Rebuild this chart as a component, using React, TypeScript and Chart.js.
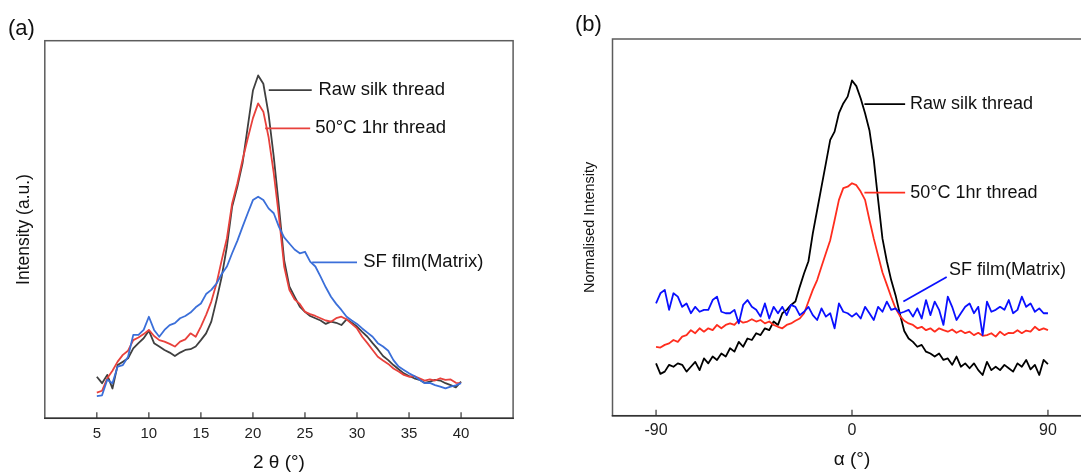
import React, { useEffect, useRef } from "react";
import { Chart, registerables } from "chart.js";

Chart.register(...registerables);

// ---------- Panel (a): XRD ----------
const twoTheta = [
  5, 5.5, 6, 6.5, 7, 7.5, 8, 8.5, 9, 9.5, 10, 10.5, 11, 11.5, 12, 12.5, 13, 13.5, 14, 14.5,
  15, 15.5, 16, 16.5, 17, 17.5, 18, 18.5, 19, 19.5, 20, 20.5, 21, 21.5, 22, 22.5, 23, 23.5, 24, 24.5,
  25, 25.5, 26, 26.5, 27, 27.5, 28, 28.5, 29, 29.5, 30, 30.5, 31, 31.5, 32, 32.5, 33, 33.5, 34, 34.5,
  35, 35.5, 36, 36.5, 37, 37.5, 38, 38.5, 39, 39.5, 40,
];
const rawSilkXRD = [
  11.0, 9.3, 11.5, 7.9, 14.1, 15.0, 15.9, 18.5, 19.9, 21.2, 23.2, 19.9, 19.0, 18.1, 17.4, 16.5, 17.4, 18.1, 18.3, 19.0,
  20.7, 22.5, 25.6, 31.3, 37.5, 45.5, 56.0, 61.3, 67.5, 77.2, 86.8, 90.8, 88.6, 80.6, 69.3, 56.0, 41.9, 34.9, 32.2, 29.6,
  28.2, 27.1, 26.5, 25.9, 25.0, 25.6, 25.3, 24.7, 26.2, 25.3, 24.3, 22.9, 21.6, 19.9, 18.3, 16.5, 15.4, 14.1, 13.0, 11.9,
  11.2, 10.6, 10.2, 9.4, 9.7, 10.2, 10.0, 9.3, 8.8, 8.2, 9.7,
];
const heated50XRD = [
  6.8, 7.3, 10.6, 12.6, 15.0, 16.8, 17.9, 20.7, 21.4, 22.3, 23.4, 21.8, 20.7, 20.3, 19.7, 19.0, 20.3, 20.9, 22.5, 21.6,
  24.3, 27.4, 30.9, 35.7, 41.9, 47.7, 56.9, 62.2, 68.4, 74.1, 79.5, 83.4, 81.2, 74.5, 64.9, 53.4, 40.2, 34.0, 31.5, 30.3,
  28.2, 27.6, 27.1, 26.5, 25.9, 25.6, 26.5, 26.9, 26.2, 25.0, 23.8, 21.6, 19.9, 18.1, 16.3, 15.3, 14.4, 13.2, 12.4, 11.5,
  11.0, 11.2, 10.6, 10.0, 10.3, 10.0, 10.6, 10.2, 10.3, 9.4, 9.3,
];
const sfFilmXRD = [
  5.9, 6.1, 10.2, 9.3, 13.7, 14.1, 16.3, 22.1, 22.1, 23.4, 26.9, 23.4, 21.6, 23.4, 24.7, 25.2, 26.5, 27.1, 28.0, 29.4,
  30.4, 32.9, 34.0, 35.7, 38.2, 40.2, 43.7, 47.0, 50.7, 54.3, 57.8, 58.7, 57.8, 55.6, 54.3, 50.7, 47.9, 46.3, 44.7, 43.7,
  44.1, 41.5, 40.2, 37.5, 34.7, 32.2, 30.3, 28.7, 26.9, 25.9, 25.0, 23.8, 22.7, 21.6, 19.9, 19.0, 17.9, 15.4, 13.7, 12.8,
  11.9, 11.2, 10.2, 9.3, 9.4, 8.8, 8.4, 7.9, 8.4, 8.7, 9.3,
];
const xTicksA = [5, 10, 15, 20, 25, 30, 35, 40];

// ---------- Panel (b): azimuthal ----------
const alpha = [
  -90, -88, -86, -84, -82, -80, -78, -76, -74, -72, -70, -68, -66, -64, -62, -60, -58, -56, -54, -52,
  -50, -48, -46, -44, -42, -40, -38, -36, -34, -32, -30, -28, -26, -24, -22, -20, -18, -16, -14, -12,
  -10, -8, -6, -4, -2, 0, 2, 4, 6, 8, 10, 12, 14, 16, 18, 20, 22, 24, 26, 28,
  30, 32, 34, 36, 38, 40, 42, 44, 46, 48, 50, 52, 54, 56, 58, 60, 62, 64, 66, 68,
  70, 72, 74, 76, 78, 80, 82, 84, 86, 88, 90,
];
const rawSilkAz = [
  13.9, 11.1, 11.7, 13.5, 13.0, 13.9, 13.5, 11.7, 13.0, 14.3, 12.1, 15.2, 13.9, 15.7, 14.8, 16.5, 15.7, 17.9, 17.0, 19.6,
  18.3, 20.5, 20.1, 21.9, 21.4, 23.2, 22.7, 25.0, 24.1, 27.2, 28.1, 29.4, 30.3, 34.2, 37.8, 41.0, 48.4, 54.6, 60.8, 67.0,
  73.2, 75.4, 80.3, 82.9, 84.7, 89.0, 87.5, 84.2, 80.3, 75.8, 68.0, 57.3, 47.0, 41.0, 36.0, 32.0, 27.0, 22.5, 20.5, 19.6,
  18.3, 18.8, 17.0, 16.5, 15.7, 16.5, 14.8, 15.2, 13.5, 15.7, 13.0, 13.9, 12.6, 13.9, 12.1, 10.8, 14.3, 12.1, 13.0, 12.1,
  13.5, 12.6, 11.7, 13.9, 13.0, 14.8, 12.3, 13.5, 10.8, 14.8, 13.7,
];
const heated50Az = [
  18.3, 18.1, 18.8, 19.2, 20.1, 19.6, 21.0, 21.4, 22.7, 21.9, 23.2, 22.3, 23.2, 22.7, 24.1, 23.2, 24.1, 24.5, 24.1, 25.4,
  24.7, 25.0, 25.6, 25.0, 25.4, 24.5, 25.0, 24.1, 23.6, 23.2, 24.1, 24.5, 25.2, 25.8, 27.2, 30.3, 33.4, 36.0, 39.6, 43.1,
  46.6, 51.9, 57.3, 60.4, 60.8, 61.7, 61.2, 59.5, 57.3, 52.0, 47.0, 42.5, 38.0, 34.8, 31.5, 28.5, 26.5, 25.2, 24.5, 24.1,
  23.2, 23.6, 22.7, 23.2, 22.3, 23.2, 22.7, 22.3, 22.9, 22.0, 22.6, 21.9, 22.3, 21.4, 22.0, 21.2, 21.4, 21.9, 21.0, 22.3,
  21.4, 22.0, 21.9, 22.7, 21.9, 22.6, 22.3, 23.6, 22.7, 23.2, 22.7,
];
const sfFilmAz = [
  29.8, 32.5, 33.4, 28.1, 32.5, 31.6, 28.9, 29.8, 27.2, 28.9, 27.6, 28.1, 28.1, 30.7, 31.6, 27.6, 27.2, 27.2, 28.1, 24.5,
  29.4, 30.7, 28.9, 28.1, 26.3, 29.8, 25.8, 28.9, 27.2, 28.9, 26.7, 29.4, 28.9, 26.7, 27.6, 28.9, 26.7, 25.4, 28.5, 26.3,
  27.2, 23.2, 29.8, 27.6, 27.2, 26.3, 27.2, 25.8, 28.9, 27.2, 25.4, 28.9, 27.6, 30.3, 28.1, 28.5, 27.2, 27.6, 28.1, 26.3,
  28.5, 25.8, 30.7, 26.7, 30.3, 28.1, 24.1, 31.6, 28.9, 25.4, 27.2, 28.9, 29.8, 27.2, 28.9, 21.4, 30.3, 27.6, 28.1, 28.9,
  28.1, 30.7, 27.2, 28.1, 31.6, 28.9, 29.8, 27.6, 28.5, 27.2, 27.2,
];
const xTicksB = [-90, 0, 90];

const FONT = "'Liberation Sans', Arial, Helvetica, sans-serif";

type Note = {
  text: string;
  color: string;
  x1: number; y1: number; x2: number; y2: number;
  tx: number; ty: number;
};

type PanelCfg = {
  width: number;
  left: number;
  padL: number;
  padR: number;
  padT: number;
  axisH: number;
  xMin: number;
  xMax: number;
  ticks: number[];
  tickFont: number;
  tickPad: number;
  xTitle: string;
  xTitleFont: number;
  xTitlePad: number;
  yTitle: string;
  yTitleFont: number;
  yTitleX: number;
  panelLabel: string;
  panelLabelX: number;
  panelLabelY: number;
  noteFont: number;
  notes: Note[];
  series: { x: number[]; y: number[]; color: string }[];
  lineWidth: number;
};

function makePlugin(cfg: PanelCfg) {
  return {
    id: "decor",
    afterDraw(chart: any) {
      const { ctx, chartArea: a, scales } = chart;
      const xs = scales.x;
      const ys = scales.y;
      ctx.save();
      ctx.strokeStyle = "#5c5c5c";
      ctx.lineWidth = 1.5;
      ctx.strokeRect(a.left, a.top, a.right - a.left, a.bottom - a.top);
      ctx.strokeStyle = "#333";
      ctx.beginPath();
      ctx.moveTo(a.left - 0.75, a.bottom);
      ctx.lineTo(a.right + 0.75, a.bottom);
      ctx.stroke();
      ctx.lineWidth = 1.2;
      xs.ticks.forEach((t: any) => {
        const px = xs.getPixelForValue(t.value);
        ctx.beginPath();
        ctx.moveTo(px, a.bottom);
        ctx.lineTo(px, a.bottom - 6);
        ctx.stroke();
      });
      ctx.fillStyle = "#111";
      ctx.font = `${cfg.yTitleFont}px ${FONT}`;
      ctx.textAlign = "center";
      ctx.textBaseline = "middle";
      ctx.translate(cfg.yTitleX, (a.top + a.bottom) / 2);
      ctx.rotate(-Math.PI / 2);
      ctx.fillText(cfg.yTitle, 0, 0);
      ctx.setTransform(1, 0, 0, 1, 0, 0);
      ctx.font = `22px ${FONT}`;
      ctx.textAlign = "left";
      ctx.fillText(cfg.panelLabel, cfg.panelLabelX, cfg.panelLabelY);
      ctx.font = `${cfg.noteFont}px ${FONT}`;
      cfg.notes.forEach((n) => {
        ctx.strokeStyle = n.color;
        ctx.lineWidth = 1.8;
        ctx.beginPath();
        ctx.moveTo(xs.getPixelForValue(n.x1), ys.getPixelForValue(n.y1));
        ctx.lineTo(xs.getPixelForValue(n.x2), ys.getPixelForValue(n.y2));
        ctx.stroke();
        ctx.fillStyle = "#111";
        ctx.textAlign = "left";
        ctx.textBaseline = "middle";
        ctx.fillText(n.text, xs.getPixelForValue(n.tx), ys.getPixelForValue(n.ty));
      });
      ctx.restore();
    },
  };
}

function Panel({ cfg }: { cfg: PanelCfg }) {
  const ref = useRef<HTMLCanvasElement | null>(null);
  useEffect(() => {
    if (!ref.current) return;
    const datasets = cfg.series.map((s) => ({
      data: s.x.map((xv, i) => ({ x: xv, y: s.y[i] })),
      borderColor: s.color,
      borderWidth: cfg.lineWidth,
      pointRadius: 0,
      tension: 0,
      fill: false,
      borderJoinStyle: "round" as const,
    }));
    const chart = new Chart(ref.current, {
      type: "line",
      data: { datasets },
      options: {
        animation: false,
        responsive: false,
        devicePixelRatio: 1,
        layout: { padding: { left: cfg.padL, right: cfg.padR, top: cfg.padT, bottom: 0 } },
        plugins: { legend: { display: false }, tooltip: { enabled: false } },
        scales: {
          x: {
            type: "linear",
            min: cfg.xMin,
            max: cfg.xMax,
            afterBuildTicks: (s: any) => {
              s.ticks = cfg.ticks.map((v) => ({ value: v }));
            },
            afterFit: (s: any) => {
              s.height = cfg.axisH;
            },
            grid: { display: false, drawTicks: false },
            border: { display: false },
            ticks: {
              font: { family: FONT, size: cfg.tickFont },
              color: "#222",
              padding: cfg.tickPad,
              maxRotation: 0,
              autoSkip: false,
              callback: (v: any) => String(v),
            },
            title: {
              display: true,
              text: cfg.xTitle,
              font: { family: FONT, size: cfg.xTitleFont },
              color: "#111",
              padding: { top: 0, bottom: cfg.xTitlePad },
            },
          },
          y: { display: false, min: 0, max: 100 },
        },
      },
      plugins: [makePlugin(cfg)],
    } as any);
    return () => chart.destroy();
  }, [cfg]);
  return (
    <canvas
      ref={ref}
      width={cfg.width}
      height={474}
      style={{ position: "absolute", left: cfg.left, top: 0, width: cfg.width, height: 474, display: "block" }}
    />
  );
}

const panelA: PanelCfg = {
  width: 540,
  left: 0,
  padL: 44.8,
  padR: 26.9,
  padT: 40.7,
  axisH: 55.7,
  xMin: 0,
  xMax: 45,
  ticks: xTicksA,
  tickFont: 15,
  tickPad: 6.5,
  xTitle: "2 θ (°)",
  xTitleFont: 19,
  xTitlePad: 0,
  yTitle: "Intensity (a.u.)",
  yTitleFont: 17.5,
  yTitleX: 24,
  panelLabel: "(a)",
  panelLabelX: 8,
  panelLabelY: 29,
  noteFont: 18.5,
  lineWidth: 1.8,
  notes: [
    { text: "Raw silk thread", color: "#404040", x1: 21.52, y1: 86.9, x2: 25.65, y2: 86.9, tx: 26.3, ty: 86.9 },
    { text: "50°C 1hr thread", color: "#e8413c", x1: 21.17, y1: 76.8, x2: 25.5, y2: 76.8, tx: 25.98, ty: 76.8 },
    { text: "SF film(Matrix)", color: "#3b6fd9", x1: 25.69, y1: 41.3, x2: 30.0, y2: 41.3, tx: 30.6, ty: 41.3 },
  ],
  series: [
    { x: twoTheta, y: sfFilmXRD, color: "#3b6fd9" },
    { x: twoTheta, y: heated50XRD, color: "#e8413c" },
    { x: twoTheta, y: rawSilkXRD, color: "#404040" },
  ],
};

const panelB: PanelCfg = {
  width: 562,
  left: 540,
  padL: 72.5,
  padR: 10.5,
  padT: 39,
  axisH: 58.3,
  xMin: -110,
  xMax: 110,
  ticks: xTicksB,
  tickFont: 16,
  tickPad: 5.4,
  xTitle: "α (°)",
  xTitleFont: 19,
  xTitlePad: 2.6,
  yTitle: "Normalised Intensity",
  yTitleFont: 14.5,
  yTitleX: 50,
  panelLabel: "(b)",
  panelLabelX: 35,
  panelLabelY: 25,
  noteFont: 18,
  lineWidth: 1.8,
  notes: [
    { text: "Raw silk thread", color: "#000000", x1: 5.7, y1: 82.7, x2: 24.4, y2: 82.7, tx: 26.6, ty: 82.7 },
    { text: "50°C 1hr thread", color: "#ff2d1e", x1: 5.7, y1: 59.2, x2: 24.4, y2: 59.2, tx: 26.8, ty: 59.2 },
    { text: "SF film(Matrix)", color: "#0a10ff", x1: 23.6, y1: 30.3, x2: 43.5, y2: 36.8, tx: 44.5, ty: 38.7 },
  ],
  series: [
    { x: alpha, y: sfFilmAz, color: "#0a10ff" },
    { x: alpha, y: heated50Az, color: "#ff2d1e" },
    { x: alpha, y: rawSilkAz, color: "#000000" },
  ],
};

export default function App() {
  return (
    <div
      style={{
        position: "fixed",
        left: 0,
        top: 0,
        width: 1081,
        height: 474,
        overflow: "hidden",
        background: "#fff",
      }}
    >
      <Panel cfg={panelA} />
      <Panel cfg={panelB} />
    </div>
  );
}
